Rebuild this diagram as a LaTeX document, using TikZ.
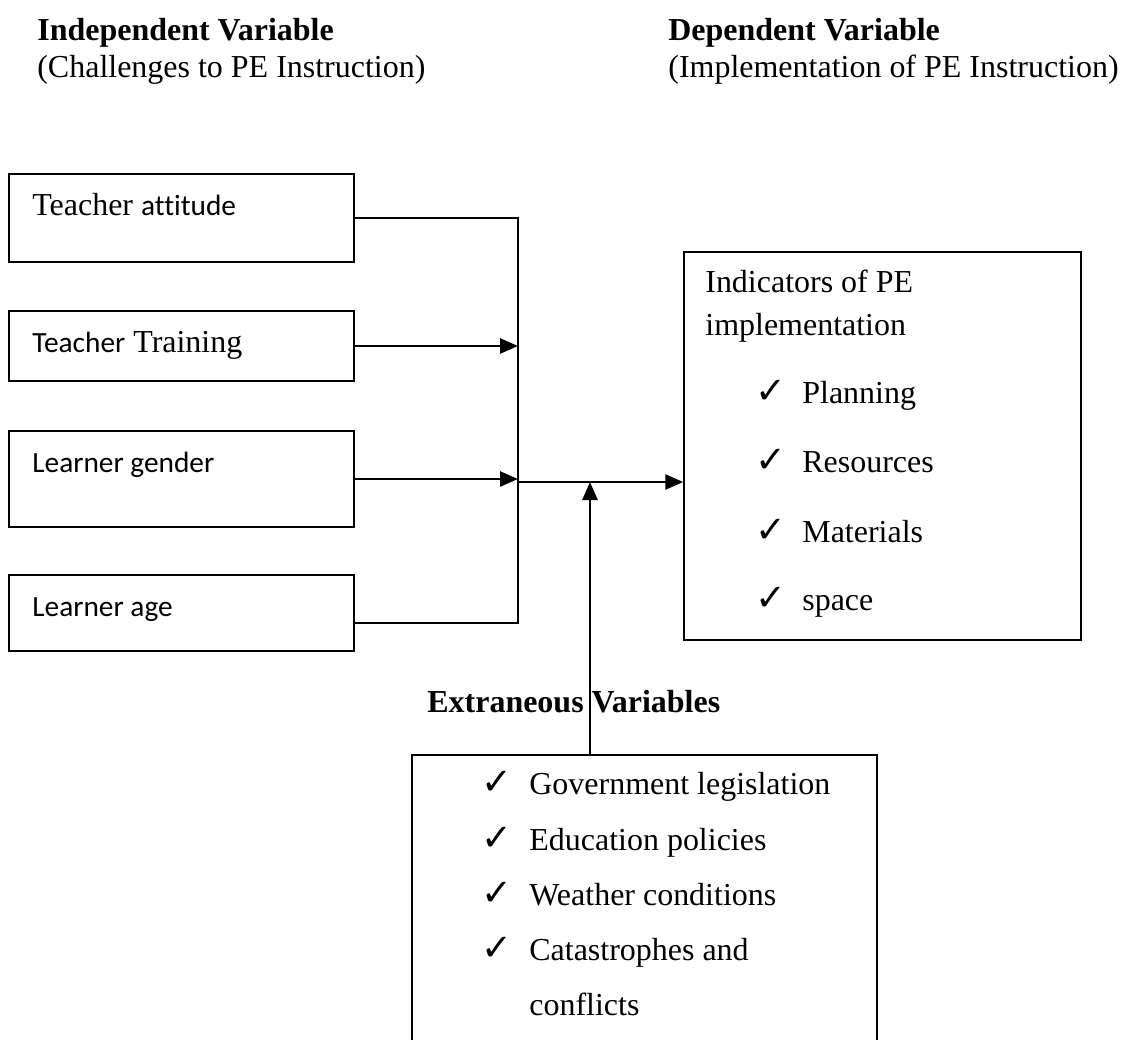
\documentclass[tikz,border=0pt]{standalone}
\usepackage{fontspec}
\setmainfont{Liberation Serif}
\newfontfamily\calfont[Ligatures=NoCommon]{Carlito}
\newfontfamily\symfont{DejaVu Sans}
\newcommand{\calsize}{\fontsize{16.7}{20}\selectfont}
\newcommand{\chk}{{\symfont\fontsize{21}{24}\selectfont ✓}}
\usetikzlibrary{arrows.meta}

\tikzset{
  box/.style={draw,line width=0.85pt,minimum width=6.9cm,inner sep=0pt},
  txt/.style={anchor=base west,inner sep=0pt},
  link/.style={line width=1.5pt},
  arr/.style={line width=1.5pt,-{Triangle[length=0.36cm,width=0.3cm]}}
}

\begin{document}
\fontsize{18.2}{22}\selectfont
\begin{tikzpicture}[x=0.02cm,y=-0.02cm]
  \useasboundingbox (0,0) rectangle (1122,1039);
  \clip (0,0) rectangle (1122,1039);

  % headings
  \node[txt] (h1) at (37,40) {\textbf{Independent Variable}};
  \node[txt] (h2) at (37,77) {(Challenges to PE Instruction)};
  \node[txt] (h3) at (668,40) {\textbf{Dependent Variable}};
  \node[txt] (h4) at (668,77) {(Implementation of PE Instruction)};

  % independent variables
  \node[box,minimum height=1.76cm] (1) at (181.5,218) {};
  \node[box,minimum height=1.4cm] (2) at (181.5,346) {};
  \node[box,minimum height=1.92cm] (3) at (181.5,479) {};
  \node[box,minimum height=1.52cm] (4) at (181.5,613) {};
  \node[txt] (t1) at (32,215) {Teacher {\calfont\calsize attitude}};
  \node[txt] (t2) at (32,352) {{\calfont\calsize Teacher} Training};
  \node[txt,font=\calfont\calsize] (t3) at (32,472) {Learner gender};
  \node[txt,font=\calfont\calsize] (t4) at (32,616) {Learner age};

  % dependent variable
  \node[draw,line width=0.85pt,minimum width=7.94cm,minimum height=7.76cm] (5) at (882.5,446) {};
  \node[txt] (t5) at (705,292) {Indicators of PE};
  \node[txt] (t6) at (705,335) {implementation};
  \node[txt] (c1) at (755,403) {\chk};
  \node[txt] (i1) at (802,403) {Planning};
  \node[txt] (c2) at (755,472) {\chk};
  \node[txt] (i2) at (802,472) {Resources};
  \node[txt] (c3) at (755,542) {\chk};
  \node[txt] (i3) at (802,542) {Materials};
  \node[txt] (c4) at (755,610) {\chk};
  \node[txt] (i4) at (802,610) {space};

  % extraneous variables
  \node[txt] (h5) at (427,712) {\textbf{Extraneous Variables}};
  \node[draw,line width=0.85pt,minimum width=9.3cm,minimum height=6.9cm] (6) at (644.5,927.5) {};
  \node[txt] (c5) at (481,794) {\chk};
  \node[txt] (e1) at (529,794) {Government legislation};
  \node[txt] (c6) at (481,850) {\chk};
  \node[txt] (e2) at (529,850) {Education policies};
  \node[txt] (c7) at (481,905) {\chk};
  \node[txt] (e3) at (529,905) {Weather conditions};
  \node[txt] (c8) at (481,960) {\chk};
  \node[txt] (e4) at (529,960) {Catastrophes and};
  \node[txt] (e5) at (529,1015) {conflicts};

  % connectors
  \coordinate (bt) at (518,218);
  \coordinate (bb) at (518,623);
  \coordinate (j) at (590,482);
  \draw[link] (1.east) -- (bt) -- (bb) -- (bb -| 4.east);
  \draw[arr] (2.east) -- (2.east -| bt);
  \draw[arr] (3.east) -- (3.east -| bt);
  \draw[arr] (bt |- j) -- (j -| 5.west);
  \draw[arr] (6.north -| j) -- (j);
\end{tikzpicture}
\end{document}
